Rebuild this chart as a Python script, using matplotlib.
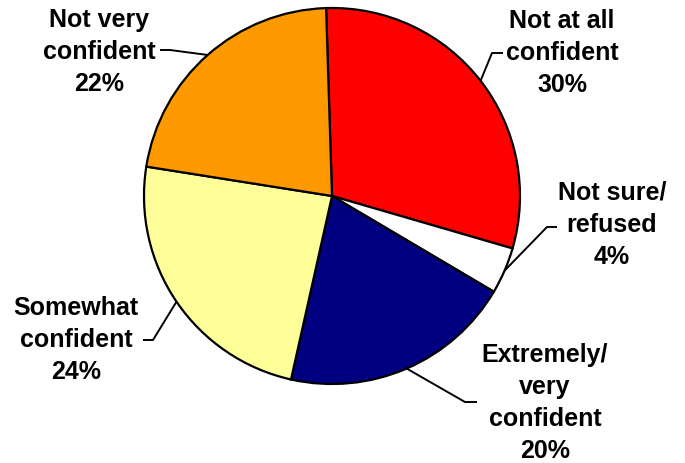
import numpy as np
import matplotlib
matplotlib.use("Agg")
import matplotlib.pyplot as plt

# Survey responses: confidence level
categories = ["Not at all\nconfident", "Not sure/\nrefused", "Extremely/\nvery\nconfident",
              "Somewhat\nconfident", "Not very\nconfident"]
values = [30, 4, 20, 24, 22]
colors = ["#FF0000", "#FFFFFF", "#000080", "#FFFF99", "#FF9900"]

W, H = 685, 463
fig = plt.figure(figsize=(W / 100, H / 100), dpi=100)
ax = fig.add_axes([0, 0, 1, 1])

cx, cy, r = 332, H - 196, 188
wedges, _ = ax.pie(values, colors=colors, startangle=91.8, counterclock=False,
                   center=(cx, cy), radius=r, frame=True,
                   wedgeprops=dict(edgecolor="black", linewidth=1.6))
ax.set_xlim(0, W)
ax.set_ylim(0, H)
ax.set_aspect("equal")
ax.axis("off")

# label placement: (elbow point, end of horizontal tick, text centre), pixels from top-left
layout = [
    ((492, 53), (503, 53), (562, 53)),
    ((547, 227), (557, 227), (612, 225)),
    ((465, 402), (477, 402), (545, 403)),
    ((153, 340), (143, 340), (76, 340)),
    ((170, 50), (160, 50), (99, 52)),
]

for w, cat, v, (elbow, tick, txt) in zip(wedges, categories, values, layout):
    mid = np.deg2rad((w.theta1 + w.theta2) / 2)
    ex, ey = cx + r * np.cos(mid), cy + r * np.sin(mid)
    xs = [ex, elbow[0], tick[0]]
    ys = [ey, H - elbow[1], H - tick[1]]
    ax.plot(xs, ys, color="black", lw=1.4, solid_capstyle="butt")
    ax.text(txt[0], H - txt[1], f"{cat}\n{v}%", ha="center", va="center",
            fontsize=18, fontweight="bold", family="Liberation Sans",
            linespacing=1.43)

fig.savefig("out.png", dpi=100)
